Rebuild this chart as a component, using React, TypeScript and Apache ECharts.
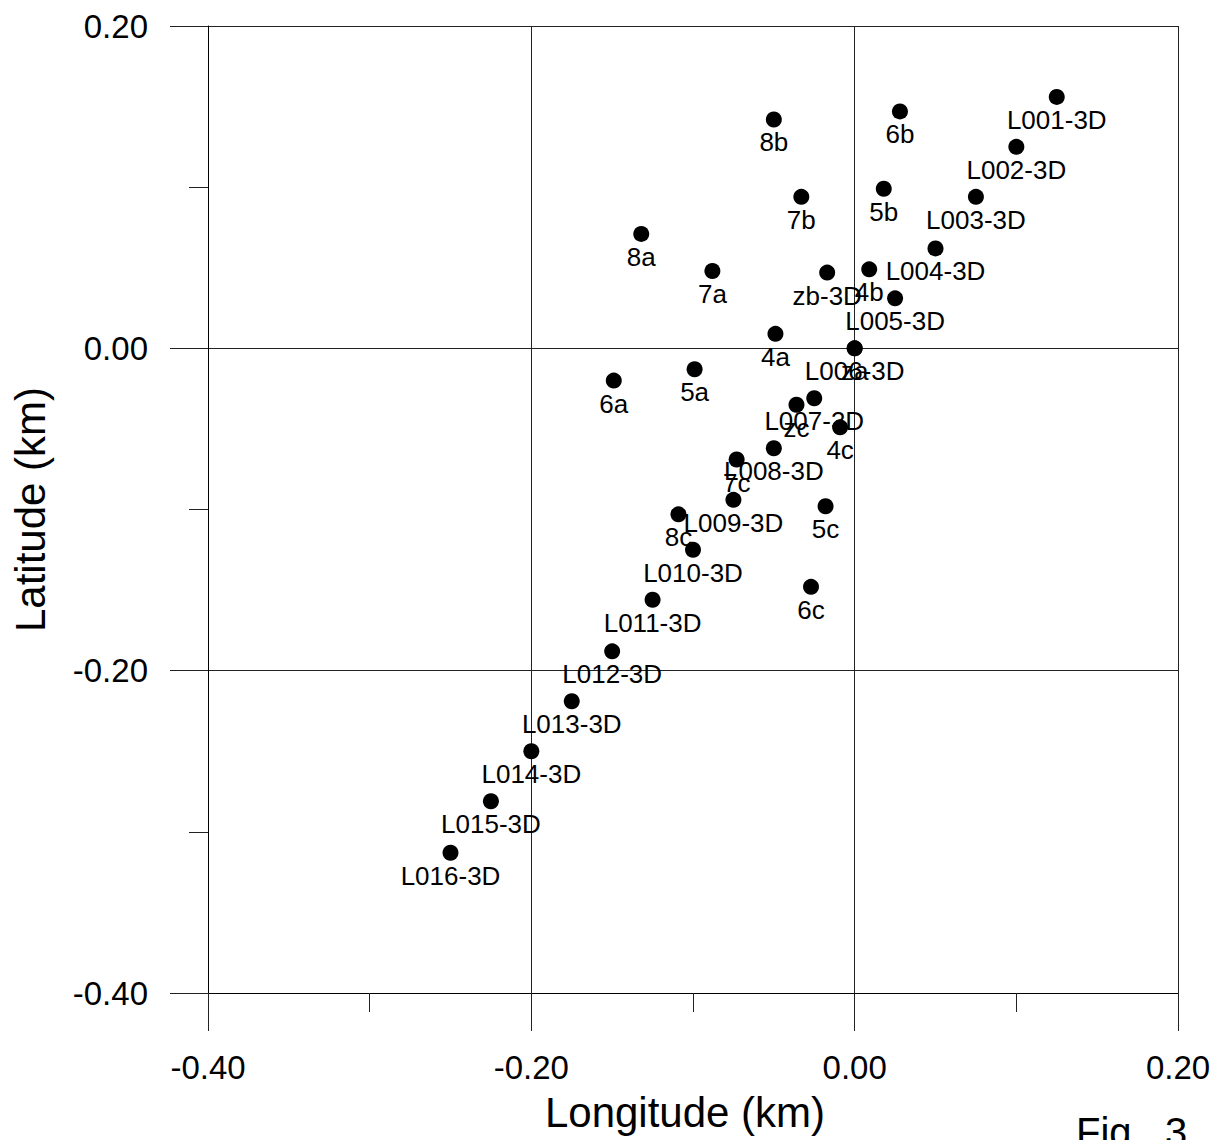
import React, { useEffect, useRef } from "react";
import * as echarts from "echarts";

const pointNames = [
  "L001-3D", "L002-3D", "L003-3D", "L004-3D", "L005-3D", "L006-3D", "L007-3D", "L008-3D",
  "L009-3D", "L010-3D", "L011-3D", "L012-3D", "L013-3D", "L014-3D", "L015-3D", "L016-3D",
  "4a", "4b", "4c", "5a", "5b", "5c", "6a", "6b", "6c", "7a", "7b", "7c", "8a", "8b", "8c",
  "za", "zb-3D", "zc",
];
const longitudes = [
  0.125, 0.1, 0.075, 0.05, 0.025, 0.0, -0.025, -0.05,
  -0.075, -0.1, -0.125, -0.15, -0.175, -0.2, -0.225, -0.25,
  -0.049, 0.009, -0.009, -0.099, 0.018, -0.018, -0.149, 0.028, -0.027,
  -0.088, -0.033, -0.073, -0.132, -0.05, -0.109,
  0.0, -0.017, -0.036,
];
const latitudes = [
  0.156, 0.125, 0.094, 0.062, 0.031, 0.0, -0.031, -0.062,
  -0.094, -0.125, -0.156, -0.188, -0.219, -0.25, -0.281, -0.313,
  0.009, 0.049, -0.049, -0.013, 0.099, -0.098, -0.02, 0.147, -0.148,
  0.048, 0.094, -0.069, 0.071, 0.142, -0.103,
  0.0, 0.047, -0.035,
];
const axisMin = -0.4;
const axisMax = 0.2;
const axisStep = 0.2;
const xTitle = "Longitude (km)";
const yTitle = "Latitude (km)";
const figLabel = "Fig.  3";

const FONT = "'Liberation Sans', Arial, Helvetica, sans-serif";

const fmt = (v: number) => (Math.abs(v) < 1e-9 ? 0 : v).toFixed(2);

export default function App() {
  const ref = useRef<HTMLDivElement>(null);
  useEffect(() => {
    if (!ref.current) return;
    const chart = echarts.init(ref.current, null, { renderer: "svg" });
    const data = pointNames.map((n, i) => ({ name: n, value: [longitudes[i], latitudes[i]] }));
    const lineColor = "#222";
    const axisCommon = (gap: number, nameGap: number, namePad: number[]) => ({
      type: "value" as const,
      min: axisMin,
      max: axisMax,
      interval: axisStep,
      nameLocation: "middle" as const,
      nameGap,
      nameTextStyle: { fontSize: 42, fontFamily: FONT, color: "#000", padding: namePad },
      axisLine: { show: true, onZero: false, lineStyle: { color: "#000", width: 1 } },
      axisTick: { show: true, length: 38, lineStyle: { color: lineColor, width: 1 } },
      minorTick: { show: true, splitNumber: 2, length: 19, lineStyle: { color: lineColor, width: 1 } },
      splitLine: { show: true, lineStyle: { color: lineColor, width: 1 } },
      minorSplitLine: { show: false },
      axisLabel: {
        formatter: fmt,
        fontSize: 33,
        fontFamily: FONT,
        color: "#000",
        margin: gap,
        showMinLabel: true,
        showMaxLabel: true,
      },
    });
    chart.setOption({
      animation: false,
      backgroundColor: "#fff",
      grid: { left: 208, top: 26, width: 970, height: 967, containLabel: false },
      xAxis: { ...axisCommon(58, 98, [0, 16, 0, 0]), name: xTitle },
      yAxis: { ...axisCommon(60, 157, [0, 0, 0, 0]), name: yTitle },
      graphic: [
        {
          type: "text",
          left: 1076,
          top: 1112,
          style: { text: figLabel, fontSize: 40, fontFamily: FONT, fill: "#000" },
        },
      ],
      series: [
        {
          type: "scatter",
          data,
          symbol: "circle",
          symbolSize: 16,
          itemStyle: { color: "#000", opacity: 1 },
          label: {
            show: true,
            position: "bottom",
            distance: 2,
            formatter: "{b}",
            fontSize: 26,
            fontFamily: FONT,
            color: "#000",
            opacity: 1,
          },
          emphasis: { disabled: true },
        },
      ],
    });
    return () => chart.dispose();
  }, []);
  return (
    <div
      ref={ref}
      style={{ position: "fixed", left: 0, top: 0, width: 1219, height: 1140, background: "#fff" }}
    />
  );
}
